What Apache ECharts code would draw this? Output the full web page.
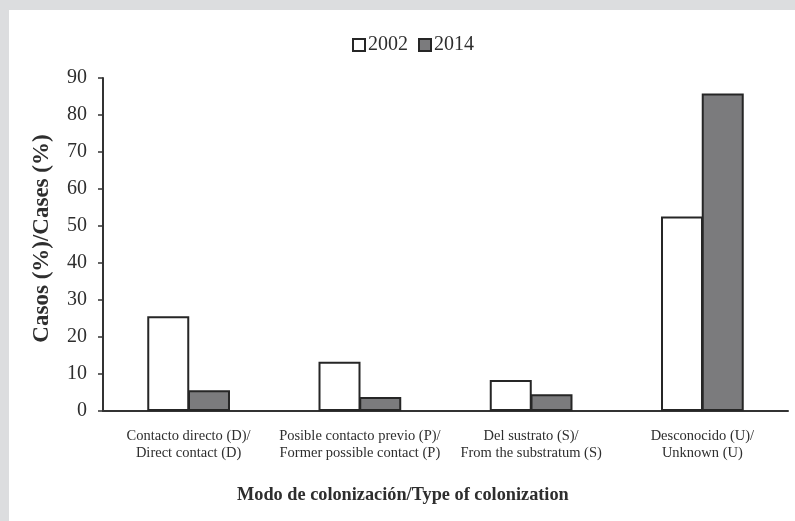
<!DOCTYPE html>
<html><head><meta charset="utf-8">
<script src="https://cdn.jsdelivr.net/npm/echarts@6/dist/echarts.min.js"></script>
<style>html,body{margin:0;padding:0;background:#dcdddf}#c{width:795px;height:521px}</style>
</head><body><div id="c"></div>
<script>
const categories = ["Contacto directo (D)/\nDirect contact (D)", "Posible contacto previo (P)/\nFormer possible contact (P)", "Del sustrato (S)/\nFrom the substratum (S)", "Desconocido (U)/\nUnknown (U)"];
const values2002 = [25.6, 13.3, 8.4, 52.6];
const values2014 = [5.6, 3.8, 4.5, 85.8];
const yTicks = [0, 10, 20, 30, 40, 50, 60, 70, 80, 90];
const xTitle = 'Modo de colonización/Type of colonization';
const font = "Liberation Serif";
const txt = "#2e2e2e";
const chart = echarts.init(document.getElementById('c'), null, {renderer: 'canvas'});
chart.setOption({
  backgroundColor: '#dcdddf',
  animation: false,
  textStyle: {fontFamily: font, color: txt},
  graphic: [
    {type: 'rect', z: -10, shape: {x: 9, y: 10, width: 786, height: 511}, style: {fill: '#ffffff'}},
    {type: 'text', left: 237, top: 486, style: {text: xTitle, font: 'bold 18.3px "Liberation Serif"', fill: txt}}
  ],
  legend: {
    top: 30, left: 347, itemWidth: 12, itemHeight: 12, itemGap: 10,
    textStyle: {fontFamily: font, fontSize: 20, color: txt, padding: [0, 0, 0, -2]},
    data: [{name: '2002', icon: 'rect'}, {name: '2014', icon: 'rect'}]
  },
  grid: {left: 103, right: 7, top: 78, bottom: 110, containLabel: false},
  xAxis: {
    type: 'category', data: categories,
    axisLine: {lineStyle: {color: '#333', width: 2}},
    axisTick: {show: false},
    axisLabel: {fontFamily: font, fontSize: 14.5, color: txt, lineHeight: 17, margin: 17, interval: 0}
  },
  yAxis: {
    type: 'value', min: 0, max: 90, interval: 10,
    name: 'Casos (%)/Cases (%)', nameLocation: 'middle', nameGap: 49,
    nameTextStyle: {fontFamily: font, fontSize: 23, fontWeight: 'bold', color: txt, padding: [0, 0, 0, 12]},
    axisLine: {show: true, lineStyle: {color: '#333', width: 2}},
    axisTick: {show: true, length: 5, lineStyle: {color: '#333', width: 1.5}},
    splitLine: {show: false},
    axisLabel: {fontFamily: font, fontSize: 20, color: txt, margin: 16,
      formatter: v => yTicks.includes(v) ? String(v) : ''}
  },
  series: [
    {name: '2002', type: 'bar', data: values2002, barWidth: 42, barGap: '-3%',
     itemStyle: {color: '#ffffff', borderColor: '#262626', borderWidth: 2}},
    {name: '2014', type: 'bar', data: values2014, barWidth: 42, barGap: '-3%',
     itemStyle: {color: '#7b7b7d', borderColor: '#262626', borderWidth: 2}}
  ]
});
</script></body></html>
